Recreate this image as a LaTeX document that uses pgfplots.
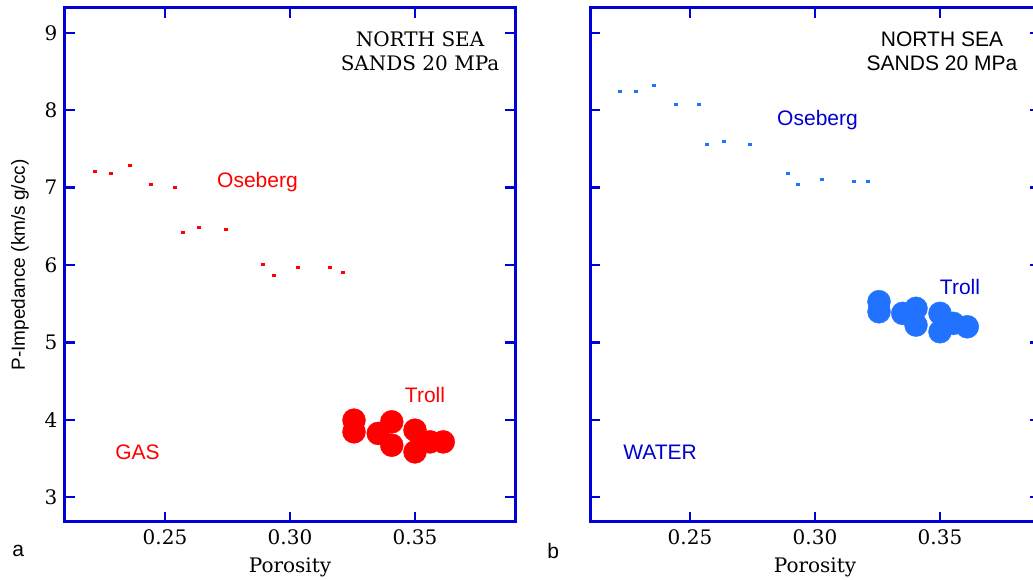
\documentclass[border=0pt]{standalone}
\usepackage{pgfplots}
\pgfplotsset{compat=1.18}
\usepackage{fontspec}
\setmainfont{DejaVu Serif}
\newfontfamily\arial{Liberation Sans}
\definecolor{axblue}{rgb}{0,0,0.85}
\definecolor{ptblue}{rgb}{0.13,0.45,1}
\definecolor{txtblue}{rgb}{0,0,0.8}
\newcommand{\serifsz}{\fontsize{20}{24}\selectfont}
\newcommand{\sanssz}{\arial\fontsize{21}{24}\selectfont}

\pgfplotstableread{
x y
0.2219 7.21
0.2283 7.177
0.2359 7.28
0.2443 7.044
0.2539 7.005
0.2571 6.423
0.2635 6.488
0.2743 6.453
0.2891 6.004
0.2935 5.867
0.3031 5.970
0.3159 5.970
0.3212 5.901
}\osebergGas
\pgfplotstableread{
x y
0.3256 3.996
0.3256 3.845
0.3353 3.824
0.3407 3.974
0.3407 3.672
0.3500 3.866
0.3500 3.586
0.3560 3.715
0.3613 3.715
}\trollGas
\pgfplotstableread{
x y
0.2219 8.246
0.2283 8.246
0.2357 8.315
0.2443 8.078
0.2537 8.078
0.2569 7.561
0.2635 7.591
0.2741 7.561
0.2891 7.177
0.2933 7.044
0.3029 7.108
0.3157 7.073
0.3212 7.073
}\osebergWater
\pgfplotstableread{
x y
0.3256 5.526
0.3256 5.396
0.3351 5.375
0.3404 5.440
0.3404 5.224
0.3500 5.375
0.3500 5.138
0.3553 5.246
0.3609 5.202
}\trollWater

\pgfplotsset{
 panel/.style={
  scale only axis, width=450pt, height=514pt,
  xmin=0.21, xmax=0.39, ymin=2.68, ymax=9.32,
  xtick={0.25,0.30,0.35}, ytick={3,4,5,6,7,8,9},
  x tick label style={/pgf/number format/.cd, fixed, fixed zerofill, precision=2, /tikz/.cd, yshift=-4pt},
  y tick label style={xshift=-4pt},
  /pgf/number format/assume math mode=true,
  tick align=inside, major tick length=10pt,
  tick style={axblue, line width=2.5pt},
  axis line style={axblue, line width=3pt},
  tick label style={font=\serifsz},
  label style={font=\serifsz},
  xlabel={Porosity},
  xlabel style={yshift=-6pt},
  clip=false,
 }
}

\begin{document}
\begin{tikzpicture}
\useasboundingbox (0pt,0pt) rectangle (1033pt,580pt);
\begin{axis}[panel, at={(65pt,58pt)}, anchor=south west,
  ylabel={P-Impedance (km/s g/cc)}, ylabel style={font=\arial\fontsize{19}{22}\selectfont, yshift=9pt}]
\addplot[only marks, color=red, mark=*, mark size=11.5pt, mark options={draw=red, fill=red}] table {\trollGas};
\addplot[only marks, color=red, mark=-, mark size=1.8pt, mark options={line width=3pt, draw=red}] table {\osebergGas};
\node[font=\serifsz, align=center, inner sep=0pt] at (axis cs:0.352,8.761) {NORTH SEA\\SANDS 20 MPa};
\node[font=\sanssz, text=red, inner sep=0pt] at (axis cs:0.287,7.077) {Oseberg};
\node[font=\sanssz, text=red, inner sep=0pt] at (axis cs:0.354,4.319) {Troll};
\node[font=\sanssz, text=red, inner sep=0pt] at (axis cs:0.239,3.582) {GAS};
\node[font=\sanssz, inner sep=0pt] at (rel axis cs:-0.104,-0.056) {a};
\end{axis}
\begin{axis}[panel, at={(590pt,58pt)}, anchor=south west, yticklabels={}]
\addplot[only marks, color=ptblue, mark=*, mark size=11.5pt, mark options={draw=ptblue, fill=ptblue}] table {\trollWater};
\addplot[only marks, color=ptblue, mark=-, mark size=1.8pt, mark options={line width=3pt, draw=ptblue}] table {\osebergWater};
\node[font=\sanssz, align=center, inner sep=0pt] at (axis cs:0.3508,8.761) {NORTH SEA\\SANDS 20 MPa};
\node[font=\sanssz, text=txtblue, inner sep=0pt] at (axis cs:0.301,7.875) {Oseberg};
\node[font=\sanssz, text=txtblue, inner sep=0pt] at (axis cs:0.358,5.72) {Troll};
\node[font=\sanssz, text=txtblue, inner sep=0pt] at (axis cs:0.238,3.582) {WATER};
\node[font=\sanssz, inner sep=0pt] at (rel axis cs:-0.082,-0.056) {b};
\end{axis}
\end{tikzpicture}
\end{document}
